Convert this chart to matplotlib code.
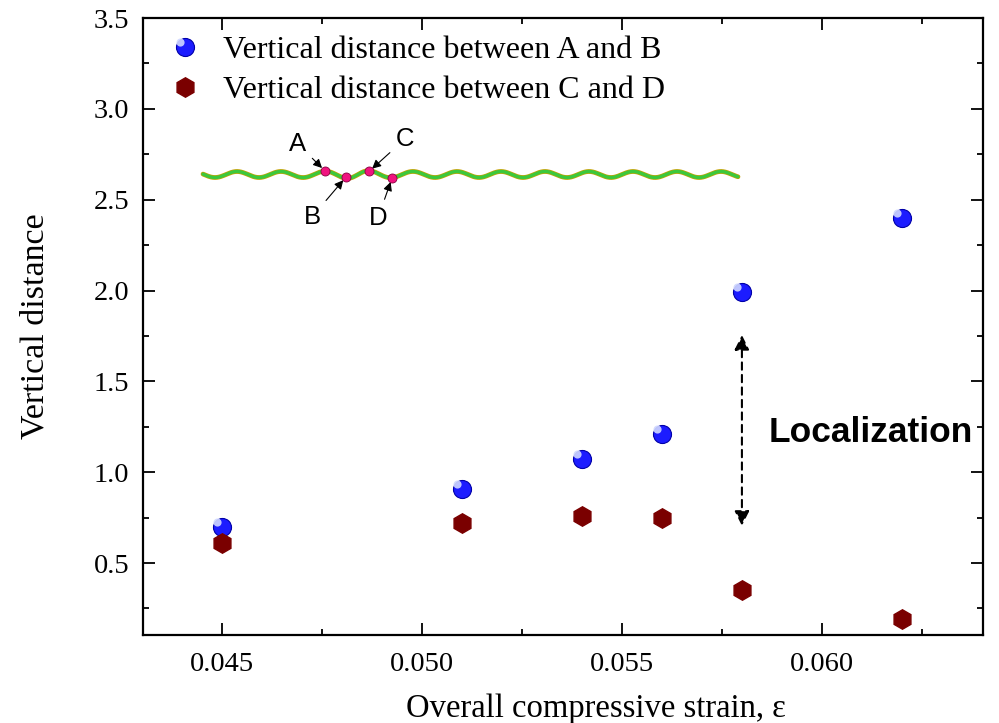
import numpy as np
import matplotlib
matplotlib.use('Agg')
import matplotlib.pyplot as plt
from matplotlib.path import Path
from matplotlib.legend_handler import HandlerTuple
from matplotlib.ticker import MultipleLocator

#------------------------------------------------------------------------------
# Data
#------------------------------------------------------------------------------
strain  = [0.045, 0.051, 0.054, 0.056, 0.058, 0.062]
dist_ab = [0.70, 0.91, 1.07, 1.21, 1.99, 2.40]
dist_cd = [0.61, 0.72, 0.76, 0.75, 0.35, 0.19]

lab_ab = 'Vertical distance between A and B'
lab_cd = 'Vertical distance between C and D'

# points on the wavy schematic (figure pixel coords)
pt_names = ['A', 'B', 'C', 'D']
pt_x     = [325, 346, 369, 392]
pt_y     = [171, 177, 171.5, 178]
txt_x    = [298, 312, 405, 378]
txt_y    = [144, 217, 139, 218]

#------------------------------------------------------------------------------
plt.rcParams['font.family'] = 'Liberation Serif'

fig = plt.figure(figsize=(9.99, 7.23), dpi=100)
ax = fig.add_axes([143/999, 1 - 635/723, 840/999, 617/723])

# off-centre circle used as the glossy highlight of the spheres
circ = Path.circle(center=(-0.33, 0.33), radius=0.27)
shine = Path(circ.vertices, circ.codes)

l1, = ax.plot(strain, dist_ab, ls='', marker='o', ms=13, mfc='#1c1cff',
              mec='#0000a8', mew=0.8, zorder=3)
l1h, = ax.plot(strain, dist_ab, ls='', marker=shine, ms=13, mfc='#d0d8ff',
               mec='none', alpha=0.9, zorder=4)
l2, = ax.plot(strain, dist_cd, ls='', marker='h', ms=14, mfc='#7a0000',
              mec='#7a0000', zorder=3)

ax.set_xlim(0.04302, 0.06403)
ax.set_ylim(0.104, 3.5)
ax.xaxis.set_minor_locator(MultipleLocator(0.0025))
ax.yaxis.set_minor_locator(MultipleLocator(0.25))
ax.set_xticks([0.045, 0.050, 0.055, 0.060])
ax.set_xticklabels(['0.045', '0.050', '0.055', '0.060'])
ax.set_yticks([0.5, 1.0, 1.5, 2.0, 2.5, 3.0, 3.5])
ax.set_yticklabels(['0.5', '1.0', '1.5', '2.0', '2.5', '3.0', '3.5'])

ax.tick_params(which='both', direction='in', top=True, right=True,
               labelsize=20.5, width=1.3)
ax.tick_params(which='major', length=8.5)
ax.tick_params(which='minor', length=4.5)
ax.tick_params(axis='x', pad=12)
ax.tick_params(axis='y', pad=10)
for sp in ax.spines.values():
    sp.set_linewidth(1.6)

ax.set_xlabel('Overall compressive strain, ε', fontsize=23.5)
ax.xaxis.set_label_coords(0.539, -0.095, transform=ax.transAxes)
ax.xaxis.label.set_va('top')
ax.set_ylabel('Vertical distance', fontsize=24.5, labelpad=31)

ax.legend([(l1, l1h), l2], [lab_ab, lab_cd],
          handler_map={tuple: HandlerTuple(ndivide=1)},
          loc='upper left', bbox_to_anchor=(0.0, 1.0), frameon=False,
          fontsize=23, handlelength=1.5, handletextpad=0.45,
          labelspacing=0.33, borderaxespad=0.15)

# Localization arrow
ax.annotate('', xy=(0.058, 0.69), xytext=(0.058, 1.77),
            arrowprops=dict(arrowstyle='<|-|>', ls=(0, (3.5, 2.5)), lw=1.5,
                            color='k', mutation_scale=22))
ax.text(0.06122, 1.22, 'Localization', family='Liberation Sans',
        fontweight='bold', fontsize=25.5, ha='center', va='center',
        clip_on=False)

#------------------------------------------------------------------------------
# Inset schematic of the wavy fibre (figure pixel coordinates)
#------------------------------------------------------------------------------
ins = fig.add_axes([190/999, 1 - 240/723, 570/999, 120/723])
ins.set_xlim(190, 760)
ins.set_ylim(240, 120)
ins.axis('off')

wx = np.linspace(203, 738, 800)
ph = 2*np.pi*(wx - 203)/44.0 + 3.0
loc = np.exp(-((wx - 356)/30.0)**2)
wy = 174.5 - (3.0 + 1.0*loc)*np.sin(ph)
ins.plot(wx, wy, color='#c8a000', lw=3.4, solid_capstyle='round')
ins.plot(wx, wy, color='#3cc83c', lw=2.4, solid_capstyle='round')
ins.plot(pt_x, pt_y, ls='', marker='o', ms=6.5, mfc='#f0137f', mec='#8a0040',
         mew=0.6, zorder=5)
for n, px, py, tx, ty in zip(pt_names, pt_x, pt_y, txt_x, txt_y):
    ins.annotate(n, xy=(px, py), xytext=(tx, ty), family='Liberation Sans',
                 fontsize=18.5, ha='center', va='center',
                 arrowprops=dict(arrowstyle='-|>', color='k', lw=0.8,
                                 shrinkA=3, shrinkB=3, mutation_scale=13))

plt.savefig('out.png', dpi=100)
